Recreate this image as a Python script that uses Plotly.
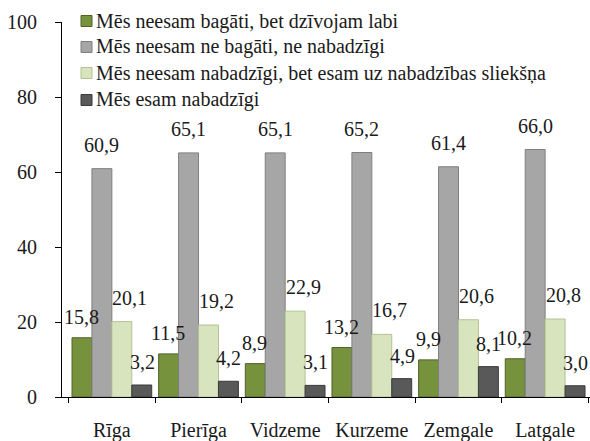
import plotly.graph_objects as go

# Regions and survey answers (percent of households)
regions = ["Rīga", "Pierīga", "Vidzeme", "Kurzeme", "Zemgale", "Latgale"]
series_names = [
    "Mēs neesam bagāti, bet dzīvojam labi",
    "Mēs neesam ne bagāti, ne nabadzīgi",
    "Mēs neesam nabadzīgi, bet esam uz nabadzības sliekšņa",
    "Mēs esam nabadzīgi",
]
living_well = [15.8, 11.5, 8.9, 13.2, 9.9, 10.2]
neither = [60.9, 65.1, 65.1, 65.2, 61.4, 66.0]
near_poverty = [20.1, 19.2, 22.9, 16.7, 20.6, 20.8]
poor = [3.2, 4.2, 3.1, 4.9, 8.1, 3.0]
y_ticks = [0, 20, 40, 60, 80, 100]

series_values = [living_well, neither, near_poverty, poor]
fills = ["#76923c", "#a6a6a6", "#d7e4bd", "#595959"]
edges = ["#4f6228", "#7f7f7f", "#b3c292", "#3a3a3a"]

TXT_FONT = dict(family="serif", size=20, color="#1a1a1a")

fig = go.Figure()
for name, vals, fc, ec in zip(series_names, series_values, fills, edges):
    fig.add_trace(go.Bar(
        x=regions, y=vals, name=name,
        marker=dict(color=fc, line=dict(color=ec, width=1)),
        showlegend=False,
    ))

# value labels above each bar (pixel shifts per series)
bar_px = 528 / 6 * 0.92 / 4
x_shifts = [-1.5 * bar_px, -0.5 * bar_px, 0.5 * bar_px + 8, 1.5 * bar_px]
y_shifts = [21, 24, 24, 23]
annotations = []
for vals, xs, ys in zip(series_values, x_shifts, y_shifts):
    for reg, v in zip(regions, vals):
        annotations.append(dict(
            x=reg, y=v, xref="x", yref="y", text=f"{v:.1f}".replace(".", ","),
            showarrow=False, xshift=xs, yshift=ys, yanchor="middle",
            font=TXT_FONT,
        ))

# legend drawn in the top-left corner of the plot
plot_l, plot_w, plot_b, plot_h = 62, 528, 397, 375
shapes = []
row_y = [21, 47, 73, 100]
for name, fc, ec, py in zip(series_names, fills, edges, row_y):
    yc = (plot_b - py) / plot_h
    shapes.append(dict(
        type="rect", xref="paper", yref="paper",
        x0=(81 - plot_l) / plot_w, x1=(92 - plot_l) / plot_w,
        y0=yc - 5.5 / plot_h, y1=yc + 5.5 / plot_h,
        fillcolor=fc, line=dict(color=ec, width=1),
    ))
    annotations.append(dict(
        x=(94 - plot_l) / plot_w, y=yc, xref="paper", yref="paper",
        text=name, showarrow=False, xanchor="left", yanchor="middle",
        font=TXT_FONT,
    ))

fig.update_layout(
    width=590, height=441,
    margin=dict(l=62, r=0, t=22, b=44),
    plot_bgcolor="white", paper_bgcolor="white",
    barmode="group", bargap=0.08, bargroupgap=0,
    font=TXT_FONT,
    annotations=annotations, shapes=shapes,
    xaxis=dict(
        type="category", tickson="boundaries", ticks="outside", ticklen=5,
        tickcolor="#000", showline=True, linecolor="#000", linewidth=1,
        showgrid=False, ticklabelstandoff=15, automargin=False,
        tickfont=TXT_FONT,
    ),
    yaxis=dict(
        range=[0, 100], tickvals=y_ticks, ticks="outside", ticklen=6,
        tickcolor="#000", showline=True, linecolor="#000", linewidth=1,
        showgrid=False, zeroline=False, ticklabelstandoff=14, automargin=False,
        tickfont=TXT_FONT,
    ),
)

fig.write_html("out.html")
